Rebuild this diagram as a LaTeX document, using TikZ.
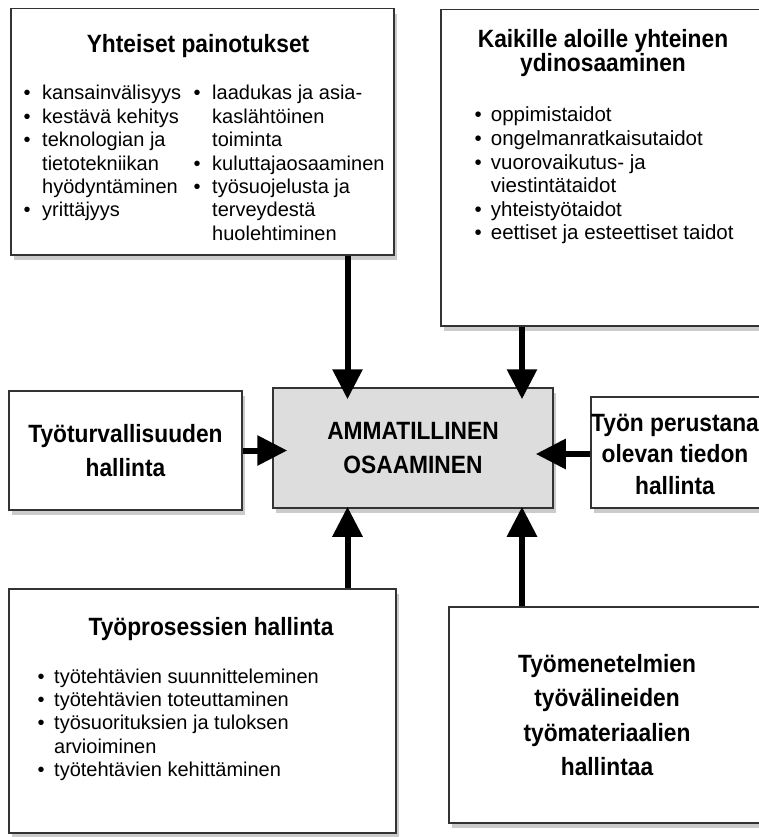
\documentclass[tikz,border=0pt]{standalone}
\usepackage{fontspec}
\setmainfont{Liberation Sans}
\newfontfamily\headfam[FakeStretch=0.91]{Liberation Sans}
\usetikzlibrary{arrows.meta,positioning,shadows}
\definecolor{boxgray}{RGB}{221,221,221}
\newcommand{\headfont}{\headfam\fontsize{25}{34.5}\selectfont\bfseries}
\newcommand{\listfont}{\fontsize{20}{23.4}\selectfont}

\begin{document}
\begin{tikzpicture}[x=1pt,y=-1pt]
\tikzstyle{box}=[rectangle, draw=black!80, line width=1.5pt, fill=white, inner sep=0pt, drop shadow={shadow xshift=3pt, shadow yshift=-5pt, fill=black!45, opacity=0.45}]
\tikzstyle{head}=[font=\headfont, align=center, inner sep=0pt]
\tikzstyle{list}=[font=\listfont, inner sep=0pt, anchor=base west]
\tikzstyle{connect}=[-{Triangle[width=29pt,length=30pt]}, line width=6pt]
  \path[use as bounding box] (0,0) rectangle (759,837);
  \clip (0,0) rectangle (759,837);
  \fill[white] (0,0) rectangle (759,837);
  \coordinate (colL) at (347.5,0);
  \coordinate (colR) at (522,0);
  % upper boxes
  \node[box, anchor=north west, minimum width=383pt, minimum height=246pt] (painot) at (10,8) {};
  \node[head, anchor=base] (painot-h) at (198,53) {Yhteiset painotukset};
  \node[list] (painot-a) at (23.5,100) {\begin{tabular}[t]{@{}l@{\hspace{11.5pt}}l@{}}
    \textbullet & kansainvälisyys\\
    \textbullet & kestävä kehitys\\
    \textbullet & teknologian ja\\
     & tietotekniikan\\
     & hyödyntäminen\\
    \textbullet & yrittäjyys
  \end{tabular}};
  \node[list] (painot-b) at (193.5,100) {\begin{tabular}[t]{@{}l@{\hspace{11.5pt}}l@{}}
    \textbullet & laadukas ja asia-\\
     & kaslähtöinen\\
     & toiminta\\
    \textbullet & kuluttajaosaaminen\\
    \textbullet & työsuojelusta ja\\
     & terveydestä\\
     & huolehtiminen
  \end{tabular}};
  \node[box, anchor=north west, minimum width=326pt, minimum height=316pt] (ydin) at (440,9) {};
  \node[head, anchor=base, font=\headfam\fontsize{25}{24.5}\selectfont\bfseries] (ydin-h) at (603,72) {Kaikille aloille yhteinen\\ydinosaaminen};
  \node[list, font=\fontsize{20.5}{23.6}\selectfont] (ydin-a) at (474.5,122) {\begin{tabular}[t]{@{}l@{\hspace{9pt}}l@{}}
    \textbullet & oppimistaidot\\
    \textbullet & ongelmanratkaisutaidot\\
    \textbullet & vuorovaikutus- ja\\
     & viestintätaidot\\
    \textbullet & yhteistyötaidot\\
    \textbullet & eettiset ja esteettiset taidot
  \end{tabular}};
  % middle row
  \node[box, head, minimum width=233pt, minimum height=119pt] (turva) at (125.5,450.5) {Työturvallisuuden\\hallinta};
  \node[box, head, fill=boxgray, minimum width=280pt, minimum height=120pt] (ammat) at (413,448) {AMMATILLINEN\\OSAAMINEN};
  \node[box, anchor=north west, minimum width=178pt, minimum height=111pt] (perus) at (590,396) {};
  \node[head, font=\headfam\fontsize{25}{31.5}\selectfont\bfseries] (perus-h) at (675,454) {Työn perustana\\olevan tiedon\\hallinta};
  % lower boxes
  \node[box, anchor=north west, minimum width=387pt, minimum height=244pt] (proses) at (8,588) {};
  \node[head, anchor=base] (proses-h) at (211,635) {Työprosessien hallinta};
  \node[list] (proses-a) at (37.5,683) {\begin{tabular}[t]{@{}l@{\hspace{9.5pt}}l@{}}
    \textbullet & työtehtävien suunnitteleminen\\
    \textbullet & työtehtävien toteuttaminen\\
    \textbullet & työsuorituksien ja tuloksen\\
     & arvioiminen\\
    \textbullet & työtehtävien kehittäminen
  \end{tabular}};
  \node[box, head, minimum width=316pt, minimum height=216pt] (menet) at (607,715) {Työmenetelmien\\työvälineiden\\työmateriaalien\\hallintaa};
  % arrows
  \path (painot.south -| colL) edge [connect, shorten >=-12pt] (ammat.north -| colL)
        (ydin.south -| colR) edge [connect, shorten >=-12pt] (ammat.north -| colR)
        (turva.east) edge [connect, shorten >=-15pt] (turva.east -| ammat.west)
        (perus.west |- perus-h) edge [connect, shorten >=-18pt] (perus-h -| ammat.east)
        (proses.north -| colL) edge [connect, shorten >=-2pt] (ammat.south -| colL)
        (menet.north -| colR) edge [connect, shorten >=-2pt] (ammat.south -| colR);
\end{tikzpicture}
\end{document}
